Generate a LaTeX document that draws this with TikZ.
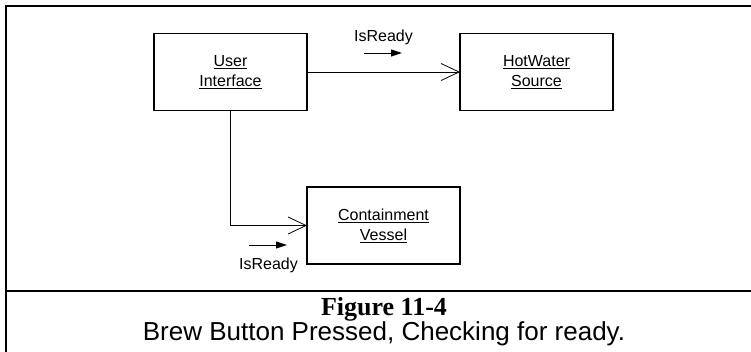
\documentclass[tikz,border=0pt]{standalone}
\usepackage{fontspec}
\setmainfont{Liberation Sans}
\newfontfamily\capserif{Liberation Serif}
\usetikzlibrary{arrows.meta}
\begin{document}
\begin{tikzpicture}[x=1pt,y=-1pt,
  obj/.style={draw,line width=1.2pt,minimum width=153pt,minimum height=77pt,inner sep=0pt,outer sep=0pt,align=center,font=\fontsize{16}{20}\selectfont},
  lbl/.style={inner sep=0pt,font=\fontsize{16}{20}\selectfont},
  link/.style={line width=0.8pt,-{Straight Barb[length=18pt,width=17pt,line width=0.8pt]}},
  msg/.style={line width=1pt,-{Triangle[length=11pt,width=7pt]}},
  frame/.style={line width=2pt}]
\useasboundingbox (0,0) rectangle (751,351);
% frame
\draw[frame] (5.7,352) -- (5.7,5.7) -- (752,5.7);
\draw[frame] (5.7,291) -- (752,291);
% objects
\node[obj] (ui) at (230.5,72) {\underline{User}\\\underline{Interface}};
\node[obj] (hw) at (536.5,72) {\underline{HotWater}\\\underline{Source}};
\node[obj] (cv) at (383.5,225.5) {\underline{Containment}\\\underline{Vessel}};
% connectors
\draw[link] (ui.east) -- (hw.west);
\draw[link] (ui.south) |- (cv.west);
% messages
\node[lbl,anchor=base] (m1) at (383.5,41) {IsReady};
\coordinate (m1a) at (364,53);
\coordinate (m1b) at (402,53);
\draw[msg] (m1a) -- (m1b);
\coordinate (m2a) at (249,245);
\coordinate (m2b) at (287,245);
\draw[msg] (m2a) -- (m2b);
\node[lbl,anchor=base] (m2) at (268.5,269) {IsReady};
% caption
\node[anchor=base,inner sep=0pt,font=\capserif\bfseries\fontsize{26}{30}\selectfont] (fig) at (384,315) {Figure 11-4};
\node[anchor=base,inner sep=0pt,font=\fontsize{26}{30}\selectfont] (cap) at (384,340) {Brew Button Pressed, Checking for ready.};
\end{tikzpicture}
\end{document}
